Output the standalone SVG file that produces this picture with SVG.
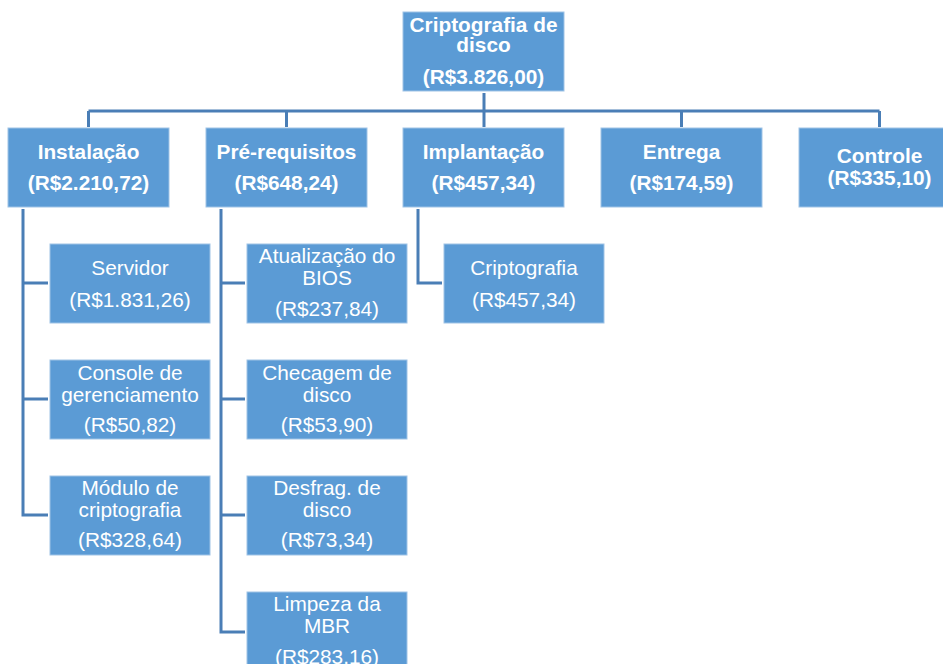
<svg xmlns="http://www.w3.org/2000/svg" width="943" height="664" viewBox="0 0 943 664">
<style>
.box{fill:#5b9bd5;stroke:#9fc3e6;stroke-width:1}
.b{font-family:"Liberation Sans",Arial,sans-serif;font-weight:bold;font-size:20.8px;fill:#ffffff;text-anchor:middle}
.r{font-family:"Liberation Sans",Arial,sans-serif;font-size:20.8px;fill:#ffffff;text-anchor:middle}
.c{fill:none;stroke:#4a7eb6;stroke-width:3}
</style>
<rect width="943" height="664" fill="#ffffff"/>
<g id="connectors" class="c">
<path d="M484 93V111M88.5 111H879.5M88.5 111V127M286.5 111V127M484 111V127M681.5 111V127M879.5 111V127"/>
<path d="M23 209V515H48M23 283H48M23 399H48"/>
<path d="M221 209V632H245M221 283H245M221 399H245M221 515H245"/>
<path d="M418 209V283H442"/>
</g>
<g id="root"><rect class="box" x="403" y="12" width="161" height="79"/>
<text class="b" x="483.5" y="32">Criptografia de</text><text class="b" x="483.5" y="52">disco</text><text class="b" x="483.5" y="84">(R$3.826,00)</text></g>
<g id="instalacao"><rect class="box" x="8" y="128" width="161" height="79"/>
<text class="b" x="88.5" y="159">Instalação</text><text class="b" x="88.5" y="190">(R$2.210,72)</text></g>
<g id="prerequisitos"><rect class="box" x="206" y="128" width="161" height="79"/>
<text class="b" x="286.5" y="159">Pré-requisitos</text><text class="b" x="286.5" y="190">(R$648,24)</text></g>
<g id="implantacao"><rect class="box" x="403" y="128" width="161" height="79"/>
<text class="b" x="483.5" y="159">Implantação</text><text class="b" x="483.5" y="190">(R$457,34)</text></g>
<g id="entrega"><rect class="box" x="601" y="128" width="161" height="79"/>
<text class="b" x="681.5" y="159">Entrega</text><text class="b" x="681.5" y="190">(R$174,59)</text></g>
<g id="controle"><rect class="box" x="799" y="128" width="161" height="79"/>
<text class="b" x="879.5" y="163">Controle</text><text class="b" x="879.5" y="185">(R$335,10)</text></g>
<g id="servidor"><rect class="box" x="50" y="244" width="160" height="79"/>
<text class="r" x="130" y="275">Servidor</text><text class="r" x="130" y="307">(R$1.831,26)</text></g>
<g id="console"><rect class="box" x="50" y="360" width="160" height="79"/>
<text class="r" x="130" y="380">Console de</text><text class="r" x="130" y="402">gerenciamento</text><text class="r" x="130" y="432">(R$50,82)</text></g>
<g id="modulo"><rect class="box" x="50" y="476" width="160" height="79"/>
<text class="r" x="130" y="495">Módulo de</text><text class="r" x="130" y="517">criptografia</text><text class="r" x="130" y="547">(R$328,64)</text></g>
<g id="bios"><rect class="box" x="247" y="244" width="160" height="79"/>
<text class="r" x="327" y="263">Atualização do</text><text class="r" x="327" y="285">BIOS</text><text class="r" x="327" y="316">(R$237,84)</text></g>
<g id="checagem"><rect class="box" x="247" y="360" width="160" height="79"/>
<text class="r" x="327" y="380">Checagem de</text><text class="r" x="327" y="402">disco</text><text class="r" x="327" y="432">(R$53,90)</text></g>
<g id="desfrag"><rect class="box" x="247" y="476" width="160" height="79"/>
<text class="r" x="327" y="495">Desfrag. de</text><text class="r" x="327" y="517">disco</text><text class="r" x="327" y="547">(R$73,34)</text></g>
<g id="limpeza"><rect class="box" x="247" y="592" width="160" height="79"/>
<text class="r" x="327" y="611">Limpeza da</text><text class="r" x="327" y="633">MBR</text><text class="r" x="327" y="664">(R$283,16)</text></g>
<g id="criptografia"><rect class="box" x="444" y="244" width="160" height="79"/>
<text class="r" x="524" y="275">Criptografia</text><text class="r" x="524" y="307">(R$457,34)</text></g>
</svg>
